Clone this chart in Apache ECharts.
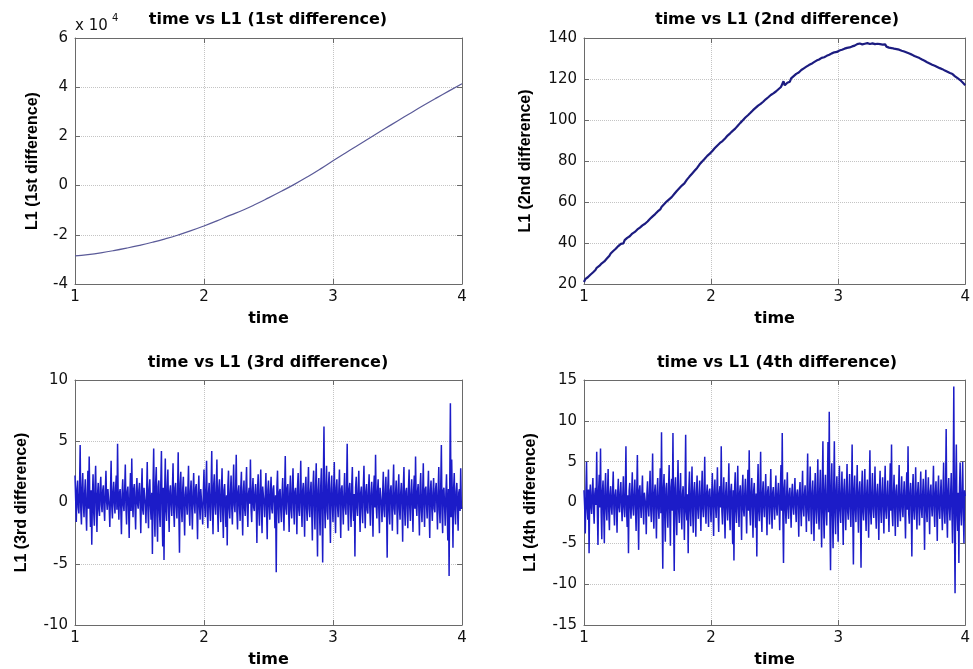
<!DOCTYPE html>
<html><head><meta charset="utf-8">
<script src="https://cdn.jsdelivr.net/npm/echarts@6/dist/echarts.min.js"></script>
<style>html,body{margin:0;padding:0;background:#fff}#c{width:973px;height:669px}</style>
</head><body><div id="c"></div><script>
// ---- data ----
const time1 = [1.0,1.1,1.2,1.3,1.4,1.5,1.6,1.7,1.8,1.9,2.0,2.1,2.2,2.3,2.4,2.5,2.6,2.7,2.8,2.9,3.0,3.1,3.2,3.3,3.4,3.5,3.6,3.7,3.8,3.9,4.0];
const l1Diff1 = [-28600,-28030,-27310,-26440,-25430,-24300,-23040,-21630,-20060,-18320,-16400,-14330,-12120,-10000,-7600,-5000,-2300,500,3500,6700,10100,13400,16620,19860,23080,26280,29440,32540,35560,38510,41400];

const time2Start = 1, time2Step = 0.01;
const l1Diff2 = [
21.0,22.4,21.9,23.3,23.0,24.5,23.8,25.6,25.1,26.8,
27.9,27.2,28.8,28.4,30.1,29.6,31.0,30.7,32.4,32.0,
33.8,34.9,34.3,36.1,35.6,37.2,36.9,38.5,38.0,39.6,
40.3,39.8,41.4,41.0,42.5,42.1,43.3,43.0,44.6,44.1,
45.4,45.0,46.6,46.1,47.5,47.2,48.6,48.0,49.4,49.1,
50.5,50.1,51.8,51.3,53.0,52.5,54.1,53.8,55.4,55.0,
56.4,57.6,57.1,58.9,58.5,60.2,59.6,61.3,60.9,62.4,
62.8,63.9,63.5,65.4,64.9,66.7,66.2,68.0,67.5,69.1,
69.6,70.9,70.6,72.4,72.0,73.8,73.4,75.2,74.9,76.6,
77.2,78.4,78.0,79.8,79.3,81.1,80.6,82.5,82.0,83.6,
84.3,84.9,85.6,86.3,86.0,87.6,87.2,88.8,88.4,89.7,
90.2,91.0,90.7,92.4,92.0,93.5,93.1,94.7,94.3,95.8,
96.3,97.2,96.9,98.6,98.2,99.9,99.4,101.2,100.8,102.3,
102.8,103.5,103.2,104.8,104.4,105.9,105.5,107.0,106.7,107.9,
108.3,108.9,108.6,110.1,109.7,111.1,110.8,112.2,111.9,113.0,
113.3,113.9,113.6,115.0,114.7,116.1,115.8,118.9,116.9,117.7,
118.2,119.0,118.7,120.3,119.9,121.4,121.0,122.5,122.1,123.2,
123.6,124.4,124.1,125.2,124.9,126.0,125.7,126.8,126.5,127.4,
127.3,128.2,127.9,129.0,128.6,129.5,129.2,130.3,129.9,130.6,
130.2,131.3,130.9,131.8,131.4,132.5,132.0,133.0,132.4,133.2,
132.8,133.9,133.4,134.3,133.9,134.8,134.3,135.2,134.7,135.4,
134.9,135.9,135.4,136.3,135.8,137.0,136.2,137.3,136.4,136.9,
136.2,137.2,136.5,137.5,136.6,137.1,136.3,137.4,136.5,137.0,
136.3,137.2,136.4,137.0,136.1,136.8,135.9,136.9,135.8,136.3,
135.3,136.2,135.1,135.8,134.8,135.6,134.6,135.3,134.3,135.0,
133.8,134.6,133.4,134.0,132.9,133.6,132.4,133.1,131.9,132.5,
131.2,132.0,130.7,131.3,130.2,130.8,129.5,130.1,128.9,129.5,
128.2,128.9,127.6,128.3,127.0,127.6,126.5,127.1,125.9,126.6,
125.3,126.0,124.8,125.3,124.1,124.7,123.5,124.1,122.9,123.5,
122.4,123.2,121.3,122.0,120.4,121.1,119.5,120.0,118.3,118.9,
117.0];

const time34Start = 1, time34Step = 0.005;
const l1Diff3 = [
2.2,0.3,-1.6,1.1,1.8,-0.4,-0.9,0.9,4.7,-0.6,-1.8,1.2,2.4,-0.2,-1.2,0.8,1.9,-0.7,-2.3,0.6,
2.6,-0.5,3.75,0.2,-2.0,1.0,-3.45,0.4,2.3,-0.8,-1.9,1.3,3.0,-0.3,-2.4,0.7,1.6,-0.6,-1.1,1.2,
2.1,-0.2,-0.8,1.0,1.4,-0.5,-1.5,0.9,2.6,0.1,-0.6,1.1,1.2,-0.4,-2.0,0.8,3.4,-0.3,-1.3,0.9,
1.7,-0.1,-0.9,1.2,2.2,-0.6,4.8,0.3,-1.4,0.8,1.1,-0.5,-2.6,0.7,1.9,-0.2,-0.7,1.0,3.1,-0.4,
-1.8,0.9,1.3,-0.3,-2.9,0.6,2.4,-0.7,3.6,0.2,-1.2,1.1,1.5,-0.4,-2.2,0.8,2.0,-0.1,-0.5,1.0,
1.6,-0.3,-2.5,0.9,2.8,-0.6,-1.0,1.2,1.2,-0.2,-1.7,0.7,3.3,-0.5,-2.1,1.1,1.9,-0.4,-1.4,0.8,
-4.2,1.4,4.4,-0.8,-2.8,1.6,2.9,-1.1,-3.2,1.3,1.8,-0.9,-2.0,1.5,4.2,-0.6,-3.6,1.2,-4.7,0.8,
3.6,-0.7,-1.5,1.3,2.7,-0.4,-2.4,0.9,1.4,-0.2,-1.1,1.0,3.2,-0.6,-2.0,1.2,1.6,-0.3,-1.3,0.7,
4.1,-0.9,-4.1,1.5,2.5,-0.5,-1.6,1.1,2.1,-0.8,-2.7,0.6,1.3,-0.2,-1.0,1.0,3.0,-0.6,-1.9,0.9,
1.8,-0.4,-2.2,0.8,2.4,-0.1,-0.9,1.2,1.5,-0.5,-3.0,0.7,2.2,-0.3,-1.4,1.1,1.1,-0.6,-1.8,0.9,
2.7,-0.2,-1.2,1.3,3.4,-0.7,-2.1,0.8,1.6,-0.4,-1.5,1.1,4.2,-0.5,-2.6,1.4,2.3,-0.3,-1.0,1.0,
3.5,-0.6,-2.4,1.2,1.9,-0.3,-1.6,0.9,2.8,-0.8,-2.9,1.0,1.5,-0.4,-2.0,0.6,-3.5,1.3,2.6,-0.5,
-1.3,0.8,2.2,-0.4,-1.8,1.1,3.1,-0.2,-0.8,1.0,3.9,-0.7,-2.2,0.9,1.4,-0.3,-1.5,1.2,2.5,-0.6,
-2.7,0.9,1.8,-0.5,-1.1,1.2,2.9,-0.3,-2.0,0.7,1.2,-0.1,3.5,-0.6,-1.6,1.0,2.0,-0.4,-0.7,0.8,
1.5,-0.2,-3.3,1.1,2.3,-0.6,-1.9,0.9,2.7,-0.4,-2.5,1.3,1.3,-0.1,-1.2,0.8,2.4,-0.7,-3.0,1.0,
1.8,-0.3,-1.4,0.9,2.1,-0.5,-0.9,1.1,1.4,-0.2,-2.1,0.6,-5.7,1.2,2.6,-0.4,-1.7,0.9,1.1,-0.6,
-1.6,0.7,2.0,-0.3,-2.3,1.0,3.8,-0.5,-1.0,1.2,1.5,-0.2,-2.4,0.8,2.2,-0.6,-1.3,1.1,2.8,-0.4,
-1.8,0.9,1.2,-0.1,-2.6,1.3,2.4,-0.6,-1.1,0.8,3.4,-0.4,-2.0,1.0,1.6,-0.3,-2.8,1.2,2.1,-0.5,
-1.5,1.1,2.9,-0.5,-1.2,0.9,1.7,-0.7,-3.1,1.4,2.6,-0.3,-2.2,1.2,3.2,-0.8,-4.4,1.0,2.0,-0.6,
-2.7,1.3,2.8,-0.9,-4.9,1.6,6.2,-0.4,-2.1,1.2,3.0,-0.7,-1.4,1.4,2.5,-0.5,-3.3,1.1,2.2,-0.2,
-1.6,1.0,3.3,-0.6,-2.5,1.2,1.9,-0.3,-1.2,0.9,2.7,-0.5,-2.9,1.1,1.4,-0.2,-1.8,0.8,2.4,-0.4,
-1.0,0.9,4.8,-0.5,-2.3,1.1,1.6,-0.2,-2.0,1.3,2.9,-0.6,-1.5,0.7,-4.4,1.2,2.1,-0.4,-1.1,1.0,
2.6,-0.3,-2.4,0.8,1.3,-0.5,-1.7,1.2,3.0,-0.2,-2.1,0.9,1.5,-0.6,-0.9,1.0,2.3,-0.4,-1.9,0.7,
1.7,-0.1,-2.8,1.1,2.2,-0.4,3.9,-0.3,-1.3,0.9,1.9,-0.5,-2.5,1.2,1.1,-0.2,-1.6,0.8,2.5,-0.6,
-1.2,0.9,2.1,-0.4,-4.5,1.3,2.7,-0.7,-1.8,1.0,1.4,-0.2,-2.3,1.1,3.1,-0.5,-1.0,0.8,1.8,-0.3,
-2.6,1.0,2.3,-0.5,-1.4,0.8,1.6,-0.2,-3.2,1.2,2.9,-0.6,-1.9,0.9,1.2,-0.3,-2.1,1.1,2.7,-0.4,
-1.5,0.7,1.9,-0.3,-2.4,1.0,2.2,-0.5,3.75,-0.2,-1.1,0.9,1.5,-0.4,-2.7,1.2,2.4,-0.6,-1.6,0.8,
3.2,-0.4,-2.0,1.1,1.3,-0.2,-1.3,0.9,2.6,-0.6,-2.9,1.0,1.8,-0.3,-1.5,0.8,2.0,-0.5,-0.8,1.1,
1.6,-0.2,-2.2,0.9,2.9,-0.6,-1.7,1.2,4.7,-0.8,-2.5,1.0,1.2,-0.3,-1.9,0.7,2.3,-0.5,-3.1,1.1,
-6.0,1.5,8.1,-1.2,3.5,0.4,-3.7,1.1,2.4,-0.6,-1.8,0.9,1.6,-0.4,-2.3,0.8,1.1,-0.7,2.8,-0.5,
-0.4];

const l1Diff4 = [
1.5,-0.4,-3.8,1.2,5.0,-0.8,-2.1,1.6,-6.2,0.9,2.2,-0.5,-1.4,1.3,3.0,-0.7,-2.6,1.1,1.8,-0.3,
6.2,-1.0,-5.2,1.5,3.4,-0.6,6.6,-1.2,-4.5,1.4,2.7,-0.9,-5.0,1.6,3.6,-0.8,-2.2,1.2,4.1,-1.1,
-3.4,1.0,2.0,-0.5,-1.5,1.3,3.8,-0.7,-2.8,0.9,1.6,-0.3,-3.7,1.1,2.9,-0.6,-1.2,1.2,2.5,-0.4,
-2.3,0.8,3.2,-0.6,-1.8,1.2,6.9,-1.0,-3.0,0.9,-6.2,1.4,2.4,-0.5,-2.0,1.1,3.7,-0.7,-1.6,1.0,
2.8,-0.6,-3.5,1.3,5.8,-0.9,-5.8,1.5,2.1,-0.4,-1.9,1.0,3.3,-0.8,-2.7,1.2,1.4,-0.3,-3.9,1.1,
2.6,-0.5,-1.7,1.1,3.9,-0.8,-2.4,1.3,6.0,-1.0,-3.2,1.2,2.2,-0.6,-4.4,1.4,3.0,-0.7,-2.0,1.0,
4.2,-1.3,8.6,-1.6,-8.1,1.8,3.5,-1.4,-4.8,1.7,2.4,-1.1,-3.1,1.5,4.6,-1.2,-5.3,1.9,2.9,-1.0,
8.5,-1.5,-8.4,1.7,3.1,-1.2,-4.0,1.4,5.2,-0.9,-2.5,1.3,3.6,-1.1,-3.3,1.0,2.0,-0.6,-4.6,1.2,
8.3,-1.2,-2.2,1.0,-6.2,1.6,3.8,-0.9,-2.9,1.3,4.4,-1.1,-3.7,1.4,2.5,-0.5,-4.2,1.2,3.3,-0.8,
-2.0,0.9,2.7,-0.6,-3.5,1.2,3.9,-0.8,-1.8,1.0,5.6,-0.7,-2.6,1.1,2.2,-0.4,-3.0,1.3,1.7,-0.5,
-2.4,1.0,3.6,-0.7,-4.1,1.3,2.8,-0.5,-1.9,1.1,4.3,-0.9,-3.6,1.2,2.0,-0.6,6.9,-1.0,-2.7,0.9,
3.1,-0.8,-4.4,1.2,2.5,-0.6,-2.2,1.0,4.8,-1.1,-3.4,1.4,2.3,-0.9,-5.1,1.5,-7.1,1.6,3.7,-1.0,
-2.5,1.1,4.5,-0.8,-3.0,1.2,2.1,-0.4,-4.6,1.4,3.4,-0.9,-1.7,1.0,2.9,-0.7,-3.8,1.3,4.0,-1.0,
6.4,-1.1,-2.8,1.2,3.0,-0.7,-4.3,1.4,2.4,-0.5,-3.1,1.1,-6.6,1.6,4.7,-1.0,-2.3,1.2,6.2,-1.2,
-3.6,1.2,2.6,-0.6,-1.8,1.0,3.5,-0.8,-4.0,1.3,2.0,-0.4,-2.7,1.1,4.1,-0.9,-3.2,1.2,1.9,-0.5,
-2.1,0.9,3.3,-0.7,-1.6,1.1,2.4,-0.5,-3.4,1.3,4.6,-1.0,8.5,-1.6,-7.4,1.7,2.8,-0.8,-2.6,1.0,
3.7,-0.8,-2.0,1.0,1.8,-0.4,-3.1,1.2,2.3,-0.6,-1.5,0.9,3.0,-0.7,-2.4,1.1,1.6,-0.3,-4.2,1.2,
2.5,-0.6,-2.9,1.1,3.9,-0.8,-1.7,1.0,2.1,-0.5,-3.6,1.3,6.0,-1.1,-2.3,1.2,4.4,-0.9,-3.9,1.2,
2.7,-0.7,-4.7,1.4,3.6,-0.9,-2.6,1.2,5.3,-1.1,-3.3,1.5,4.0,-1.2,-5.5,1.6,7.5,-1.3,-4.4,1.4,
3.4,-0.9,-2.8,1.3,7.4,-1.2,11.1,-1.8,-8.3,1.9,4.8,-1.4,-5.6,1.7,7.5,-1.3,-3.9,1.4,3.2,-0.8,
-4.8,1.5,4.5,-1.0,-2.5,1.2,3.8,-0.9,-5.2,1.6,2.9,-0.7,-3.4,1.3,4.7,-1.1,-2.1,1.0,3.5,-0.8,
-3.0,1.2,7.1,-1.4,-7.6,1.7,3.3,-0.8,-2.4,1.1,4.6,-1.0,-3.7,1.3,2.6,-0.6,-8.0,1.8,3.9,-1.1,
-2.2,1.0,4.1,-0.9,-3.5,1.2,2.8,-0.6,-4.3,1.4,6.4,-1.2,-2.7,1.1,3.6,-0.8,-1.9,1.0,4.4,-1.0,
-3.2,1.1,2.3,-0.5,-4.6,1.4,3.9,-0.9,-2.5,1.2,3.1,-0.7,-3.8,1.3,4.5,-1.0,-2.0,0.9,2.7,-0.6,
-3.6,1.2,4.8,-1.0,7.1,-1.3,-2.9,1.1,3.4,-0.8,-4.1,1.4,2.2,-0.5,-3.0,1.2,4.6,-1.0,-2.3,0.9,
3.2,-0.7,-1.8,1.0,2.6,-0.6,-4.4,1.3,3.7,-0.9,6.9,-1.3,-2.6,1.1,2.4,-0.5,-6.6,1.6,3.5,-0.9,
-2.1,0.9,4.3,-0.9,-3.3,1.2,2.5,-0.5,-2.8,1.1,3.8,-0.8,-1.9,1.0,2.9,-0.6,-5.8,1.5,4.0,-1.0,
-2.4,1.0,3.1,-0.7,-3.9,1.3,2.2,-0.4,-1.7,1.0,4.5,-0.9,-3.0,1.2,2.6,-0.6,-4.7,1.4,3.3,-0.8,
-2.0,0.9,2.8,-0.6,-3.4,1.2,4.9,-1.0,-2.6,1.1,9.0,-1.5,-4.3,1.4,3.0,-0.7,-2.2,1.0,3.6,-0.9,
-5.0,1.6,14.2,-2.0,-11.1,2.1,7.1,-1.4,-3.5,1.2,-7.4,1.8,4.9,-1.1,-2.8,1.3,5.0,-1.2,-5.0,1.5,
0.8];

const xTicks = {min: 1, max: 4, interval: 1};
const yTicks = [
  {min: -40000, max: 60000, interval: 20000},
  {min: 20, max: 140, interval: 20},
  {min: -10, max: 10, interval: 5},
  {min: -15, max: 15, interval: 5}
];
const titles = ['time vs L1 (1st difference)','time vs L1 (2nd difference)','time vs L1 (3rd difference)','time vs L1 (4th difference)'];
const yNames = ['L1 (1st difference)','L1 (2nd difference)','L1 (3rd difference)','L1 (4th difference)'];
const xName = 'time';

// ---- build ----
function pairs(times, vals){ return vals.map((v,i)=>[times[i], v]); }
function stepPairs(start, step, vals){ return vals.map((v,i)=>[Math.round((start + i*step)*1000)/1000, v]); }

const grids = [
  {left: 75, top: 38, width: 387, height: 246},
  {left: 584, top: 38, width: 387, height: 246},
  {left: 75, top: 380, width: 387, height: 245},
  {left: 584, top: 380, width: 387, height: 245}
];
const yGaps = [34, 50, 45, 45];
const boxColor = '#6a6a6a';
const tickFont = 'DejaVu Sans';

const xAxis = [], yAxis = [];
for (let g = 0; g < 4; g++) {
  xAxis.push({
    type: 'value', gridIndex: g, min: xTicks.min, max: xTicks.max, interval: xTicks.interval,
    name: xName, nameLocation: 'middle', nameGap: 27,
    nameTextStyle: {fontFamily: tickFont, fontWeight: 'bold', fontSize: 16, color: '#000'},
    axisLine: {onZero: false, lineStyle: {color: boxColor, width: 1}},
    axisTick: {inside: true, length: 5, lineStyle: {color: boxColor}},
    axisLabel: {fontFamily: tickFont, fontSize: 15, color: '#111', margin: 6},
    splitLine: {show: true, lineStyle: {type: 'dotted', color: '#c4c4c4', width: 1}}
  });
  const yt = yTicks[g];
  yAxis.push({
    type: 'value', gridIndex: g, min: yt.min, max: yt.max, interval: yt.interval,
    name: yNames[g], nameLocation: 'middle', nameGap: yGaps[g], nameRotate: 90,
    nameTextStyle: {fontFamily: 'Liberation Sans', fontWeight: 'bold', fontSize: 16, color: '#000'},
    axisLine: {onZero: false, lineStyle: {color: boxColor, width: 1}},
    axisTick: {inside: true, length: 5, lineStyle: {color: boxColor}},
    axisLabel: {fontFamily: tickFont, fontSize: 15, color: '#111', margin: 7,
      formatter: g === 0 ? (v => String(v / 10000)) : (v => String(v))},
    splitLine: {show: true, lineStyle: {type: 'dotted', color: '#c4c4c4', width: 1}}
  });
}
for (let g = 0; g < 4; g++) {
  xAxis.push({
    type: 'value', gridIndex: g, position: 'top', min: xTicks.min, max: xTicks.max, interval: xTicks.interval,
    axisLine: {onZero: false, lineStyle: {color: boxColor, width: 1}},
    axisTick: {inside: true, length: 5, lineStyle: {color: boxColor}},
    axisLabel: {show: false}, splitLine: {show: false}
  });
  const yt = yTicks[g];
  yAxis.push({
    type: 'value', gridIndex: g, position: 'right', min: yt.min, max: yt.max, interval: yt.interval,
    axisLine: {onZero: false, lineStyle: {color: boxColor, width: 1}},
    axisTick: {inside: true, length: 5, lineStyle: {color: boxColor}},
    axisLabel: {show: false}, splitLine: {show: false}
  });
}

const series = [
  {type: 'line', xAxisIndex: 0, yAxisIndex: 0, data: pairs(time1, l1Diff1), smooth: true,
   showSymbol: false, lineStyle: {color: '#5a5a98', width: 1.2}},
  {type: 'line', xAxisIndex: 1, yAxisIndex: 1, data: stepPairs(time2Start, time2Step, l1Diff2),
   showSymbol: false, lineStyle: {color: '#1c1c80', width: 2.2}},
  {type: 'line', xAxisIndex: 2, yAxisIndex: 2, data: stepPairs(time34Start, time34Step, l1Diff3),
   showSymbol: false, lineStyle: {color: '#1c1cc8', width: 1.5}},
  {type: 'line', xAxisIndex: 3, yAxisIndex: 3, data: stepPairs(time34Start, time34Step, l1Diff4),
   showSymbol: false, lineStyle: {color: '#1c1cc8', width: 1.5}}
];

const titleFont = 'bold 16px "DejaVu Sans"';
const graphic = [
  {type: 'text', x: 268, y: 20, style: {text: titles[0], font: titleFont, fill: '#000', textAlign: 'center', textVerticalAlign: 'middle'}},
  {type: 'text', x: 777, y: 20, style: {text: titles[1], font: titleFont, fill: '#000', textAlign: 'center', textVerticalAlign: 'middle'}},
  {type: 'text', x: 268, y: 363, style: {text: titles[2], font: titleFont, fill: '#000', textAlign: 'center', textVerticalAlign: 'middle'}},
  {type: 'text', x: 777, y: 363, style: {text: titles[3], font: titleFont, fill: '#000', textAlign: 'center', textVerticalAlign: 'middle'}},
  {type: 'text', x: 75, y: 26, style: {text: 'x 10', font: '15px "DejaVu Sans"', fill: '#111', textAlign: 'left', textVerticalAlign: 'middle'}},
  {type: 'text', x: 112, y: 18, style: {text: '4', font: '10px "DejaVu Sans"', fill: '#111', textAlign: 'left', textVerticalAlign: 'middle'}}
];

const chart = echarts.init(document.getElementById('c'));
chart.setOption({
  backgroundColor: '#fff',
  animation: false,
  grid: grids,
  xAxis: xAxis,
  yAxis: yAxis,
  series: series,
  graphic: graphic
});
</script></body></html>
